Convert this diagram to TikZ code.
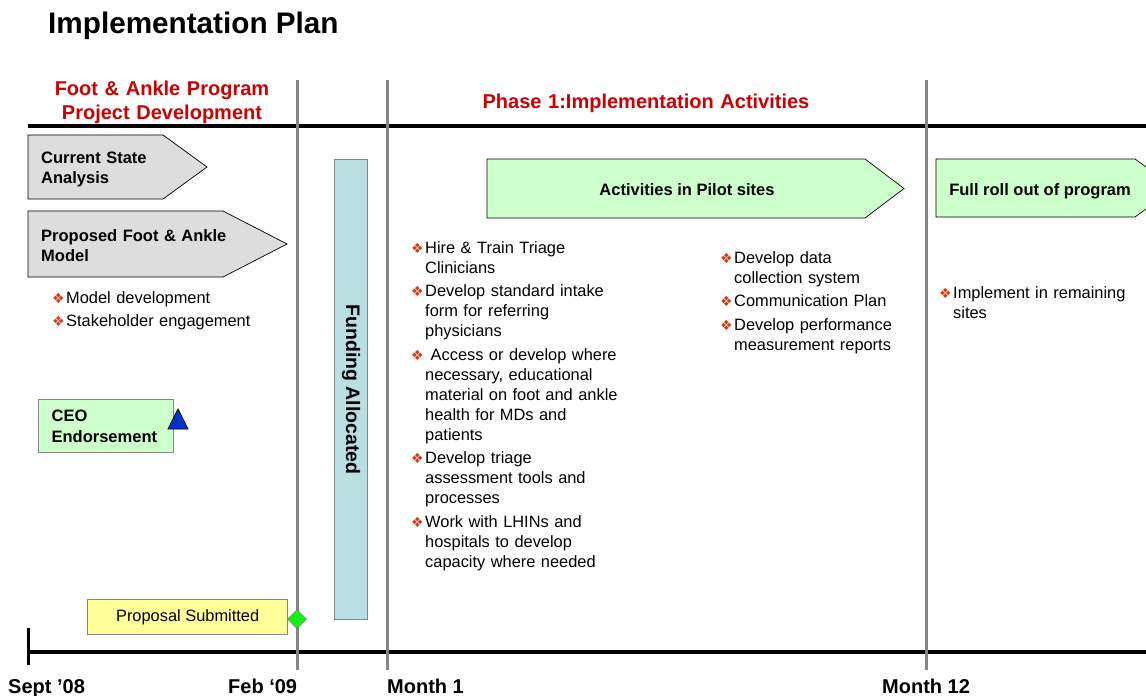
\documentclass[tikz,border=0pt]{standalone}
\usepackage{fontspec}
\setmainfont{Liberation Sans}
\newfontfamily\dingfont{DejaVu Sans}
\usetikzlibrary{positioning,shapes.geometric}
\definecolor{planred}{RGB}{204,0,0}
\definecolor{bulletred}{RGB}{214,60,20}
\definecolor{boxgrey}{RGB}{221,221,221}
\definecolor{pilotgreen}{RGB}{204,255,204}
\definecolor{fundblue}{RGB}{185,223,227}
\definecolor{propyellow}{RGB}{255,255,153}
\definecolor{markgreen}{RGB}{20,240,20}
\definecolor{ceoblue}{RGB}{0,51,204}
\definecolor{lanegrey}{RGB}{134,134,134}

% bullet, and the indent of a wrapped bullet line
\newcommand{\bul}{\makebox[14pt][l]{\color{bulletred}\dingfont\fontsize{14}{14}\selectfont ❖}}
\newcommand{\ind}{\hspace*{14pt}}

\begin{document}
\begin{tikzpicture}[
  x=1pt, y=-1pt,
  every node/.style={inner sep=0pt},
  body/.style={font=\fontsize{16.4}{20}\selectfont},
  bold/.style={font=\bfseries\fontsize{16.5}{20}\selectfont},
  list/.style={body, text width=#1, align=left, anchor=base west},
  boxtext/.style={bold, text width=#1, align=left, anchor=base west},
  phasehead/.style={font=\bfseries\fontsize{20}{24}\selectfont, text=planred, text width=340pt, align=center, anchor=base},
  datelbl/.style={font=\bfseries\fontsize{20}{24}\selectfont, anchor=base west},
  chev/.style={draw=black, line width=0.7pt},
  lane/.style={draw=lanegrey, line width=3pt},
  timeline/.style={draw=black, line width=3.5pt},
  keybox/.style={draw=lanegrey, line width=1.3pt}
]
\useasboundingbox (0,0) rectangle (1146,696);
\clip (0,0) rectangle (1146,696);

% title and section headings
\node[font=\bfseries\fontsize{29.7}{32}\selectfont, anchor=base west] (title) at (48,33) {Implementation Plan};
\node[phasehead] (devhead) at (162,95) {Foot \& Ankle Program\\Project Development};
\node[phasehead] (phasehead1) at (646,108) {Phase 1:Implementation Activities};

% horizontal rules and time axis
\coordinate (topL) at (28,126);
\coordinate (topR) at (1146,126);
\coordinate (axL) at (28,652);
\coordinate (axR) at (1146,652);
\coordinate (tickT) at (28,628);
\coordinate (tickB) at (28,665);
\draw[timeline, line width=4pt] (topL) -- (topR);
\draw[timeline] (axL) -- (axR);
\draw[timeline, line width=3pt] (tickT) -- (tickB);

% phase separators
\foreach \x/\n in {297/feb, 387/mone, 926/mtwelve} {
  \coordinate (\n-top) at (\x,80);
  \coordinate (\n-bot) at (\x,670);
  \draw[lane] (\n-top) -- (\n-bot);
}

% project development
\draw[chev, fill=boxgrey] (28,135) -- (163,135) -- (207,167) -- (163,199) -- (28,199) -- cycle;
\node[boxtext=180pt] (current) at (41,163) {Current State\\Analysis};
\draw[chev, fill=boxgrey] (28,211) -- (223,211) -- (287,244) -- (223,277) -- (28,277) -- cycle;
\node[boxtext=240pt] (proposed) at (41,241) {Proposed Foot \& Ankle\\Model};
\node[list=240pt] (modellist) at (52,303) {\bul Model development\\[3.5pt]\bul Stakeholder engagement};

\node[keybox, fill=pilotgreen, font=\bfseries\fontsize{16.5}{21}\selectfont, text width=109pt, align=left,
  inner xsep=13pt, minimum height=53pt, anchor=north west] (ceo) at (38,399) {CEO\\Endorsement};
\draw[fill=ceoblue, line width=0.8pt] (168,429) -- (178,409) -- (188,429) -- cycle;

\node[keybox, fill=propyellow, body, minimum width=200pt, minimum height=35pt, anchor=north west] (submitted) at (87,599) {Proposal Submitted};
\node[diamond, draw=black!55, line width=0.5pt, fill=markgreen, minimum size=19pt] (febmark) at (297,619) {};

% funding bar
\node[keybox, line width=1.1pt, fill=fundblue, minimum width=33pt, minimum height=460pt, anchor=north west] (fund) at (334,159) {};
\node[font=\bfseries\fontsize{19.5}{20}\selectfont, rotate=-90] (fundtext) at (fund.center) {Funding Allocated};

% phase 1 activities
\draw[chev, fill=pilotgreen] (487,159) -- (865,159) -- (904,188.5) -- (865,218) -- (487,218) -- cycle;
\node[bold, anchor=base] (pilot) at (687,195) {Activities in Pilot sites};
\draw[chev, fill=pilotgreen] (936,159) -- (1135,159) -- (1175,188) -- (1135,217) -- (936,217) -- cycle;
\node[bold, anchor=base] (rollout) at (1040,195) {Full roll out of program};

\node[list=240pt] (pilotlist) at (411,253) {%
  \bul Hire \& Train Triage\\\ind Clinicians\\[3.6pt]
  \bul Develop standard intake\\\ind form for referring\\\ind physicians\\[3.6pt]
  \bul\ Access or develop where\\\ind necessary, educational\\\ind material on foot and ankle\\\ind health for MDs and\\\ind patients\\[3.6pt]
  \bul Develop triage\\\ind assessment tools and\\\ind processes\\[3.6pt]
  \bul Work with LHINs and\\\ind hospitals to develop\\\ind capacity where needed};
\node[list=200pt] (datalist) at (720,263) {%
  \bul Develop data\\\ind collection system\\[3.6pt]
  \bul Communication Plan\\[3.6pt]
  \bul Develop performance\\\ind measurement reports};
\node[list=200pt] (rolllist) at (939,298) {\bul Implement in remaining\\\ind sites};

% dates along the axis
\node[datelbl] (sept) at (8,693) {Sept ’08};
\node[datelbl] (febdate) at (228,693) {Feb ‘09};
\node[datelbl] (month1) at (387,693) {Month 1};
\node[datelbl] (month12) at (882,693) {Month 12};
\end{tikzpicture}
\end{document}
